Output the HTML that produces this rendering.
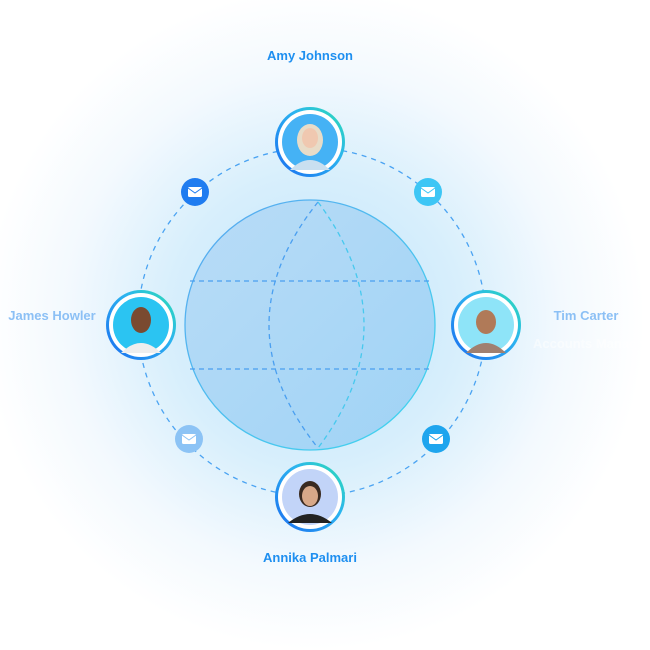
<!DOCTYPE html>
<html><head><meta charset="utf-8"><style>
html,body{margin:0;padding:0;background:#fff;}
svg{display:block;}
text{font-family:"Liberation Sans",sans-serif;font-weight:bold;font-size:13px;}
</style></head><body>
<svg width="650" height="650" viewBox="0 0 650 650" xmlns="http://www.w3.org/2000/svg">
<defs>
<radialGradient id="bg" cx="315" cy="320" r="330" gradientUnits="userSpaceOnUse">
<stop offset="0" stop-color="#bfe3fb"/><stop offset="0.45" stop-color="#d8effc"/><stop offset="0.75" stop-color="#f3f9fe"/><stop offset="1" stop-color="#ffffff"/>
</radialGradient>
<linearGradient id="globe" x1="0" y1="0" x2="1" y2="1">
<stop offset="0" stop-color="#b9dcf7"/><stop offset="1" stop-color="#9fd3f5"/>
</linearGradient>
<linearGradient id="gstroke" x1="0" y1="0" x2="1" y2="1">
<stop offset="0" stop-color="#5aa7f0"/><stop offset="1" stop-color="#3fd7ee"/>
</linearGradient>
<linearGradient id="ring" x1="0" y1="1" x2="1" y2="0">
<stop offset="0" stop-color="#1a6cf0"/><stop offset="0.6" stop-color="#2cb4f0"/><stop offset="1" stop-color="#2de0b0"/>
</linearGradient>
</defs>
<rect width="650" height="650" fill="#fff"/>
<circle cx="315" cy="320" r="330" fill="url(#bg)"/>
<!-- orbit -->
<circle cx="312" cy="322" r="174" fill="none" stroke="#4aa3f2" stroke-width="1.3" stroke-dasharray="5 5"/>
<!-- globe -->
<circle cx="310" cy="325" r="125" fill="url(#globe)" stroke="url(#gstroke)" stroke-width="1.3"/>
<g fill="none" stroke="#4a9ff0" stroke-width="1.3" stroke-dasharray="5 4">
<line x1="190" y1="281" x2="430" y2="281"/>
<line x1="190" y1="369" x2="430" y2="369"/>
<path d="M318 202 Q220 325 318 448"/>
<path d="M318 202 Q410 325 318 448" stroke="#47c9ee"/>
</g>
<!-- mail icons -->
<g>
<circle cx="195" cy="192" r="14" fill="#1f7cf0"/>
<circle cx="428" cy="192" r="14" fill="#3dc6f5"/>
<circle cx="189" cy="439" r="14" fill="#8cc3f5"/>
<circle cx="436" cy="439" r="14" fill="#1ea5ee"/>
<g fill="#fff" stroke="none">
<rect x="188" y="187" width="14" height="10" rx="1.5"/><rect x="421" y="187" width="14" height="10" rx="1.5"/>
<rect x="182" y="434" width="14" height="10" rx="1.5"/><rect x="429" y="434" width="14" height="10" rx="1.5"/>
</g>
<g fill="none" stroke="#1f7cf0" stroke-width="1"><path d="M188 188 L195 193 L202 188"/></g>
<g fill="none" stroke="#3dc6f5" stroke-width="1"><path d="M421 188 L428 193 L435 188"/></g>
<g fill="none" stroke="#8cc3f5" stroke-width="1"><path d="M182 435 L189 440 L196 435"/></g>
<g fill="none" stroke="#1ea5ee" stroke-width="1"><path d="M429 435 L436 440 L443 435"/></g>
</g>
<!-- avatars -->
<g>
<circle cx="310" cy="142" r="35" fill="url(#ring)"/><circle cx="310" cy="142" r="32" fill="#fff"/><circle cx="310" cy="142" r="28" fill="#45b2f5"/>
<ellipse cx="310" cy="140" rx="13" ry="16" fill="#e8dcc8"/><ellipse cx="310" cy="138" rx="8" ry="10" fill="#f0c8b0"/><path d="M290 170 Q310 150 330 170 Z" fill="#c9dff0"/>
<circle cx="141" cy="325" r="35" fill="url(#ring)"/><circle cx="141" cy="325" r="32" fill="#fff"/><circle cx="141" cy="325" r="28" fill="#2bc4f2"/>
<ellipse cx="141" cy="320" rx="10" ry="13" fill="#7a4a30"/><path d="M121 353 Q141 333 161 353 Z" fill="#eee"/>
<circle cx="486" cy="325" r="35" fill="url(#ring)"/><circle cx="486" cy="325" r="32" fill="#fff"/><circle cx="486" cy="325" r="28" fill="#8ee4f8"/>
<ellipse cx="486" cy="322" rx="10" ry="12" fill="#b07a58"/><path d="M466 353 Q486 333 506 353 Z" fill="#a08070"/>
<circle cx="310" cy="497" r="35" fill="url(#ring)"/><circle cx="310" cy="497" r="32" fill="#fff"/><circle cx="310" cy="497" r="28" fill="#c2d4f8"/>
<ellipse cx="310" cy="494" rx="11" ry="13" fill="#3a2a20"/><ellipse cx="310" cy="496" rx="8" ry="10" fill="#d8a888"/><path d="M288 523 Q310 505 332 523 Z" fill="#222"/>
</g>
<!-- labels -->
<text x="310" y="60" text-anchor="middle" fill="#1e8ff0">Amy Johnson</text>
<text x="52" y="320" text-anchor="middle" fill="#8cc0f5" font-weight="normal">James Howler</text>
<text x="586" y="320" text-anchor="middle" fill="#8cc0f5" font-weight="normal">Tim Carter</text>
<text x="533" y="348" fill="#ffffff" font-weight="normal" opacity="0.5">Accounts Manager</text>
<text x="310" y="562" text-anchor="middle" fill="#1e8ff0">Annika Palmari</text>
</svg>
</body></html>
